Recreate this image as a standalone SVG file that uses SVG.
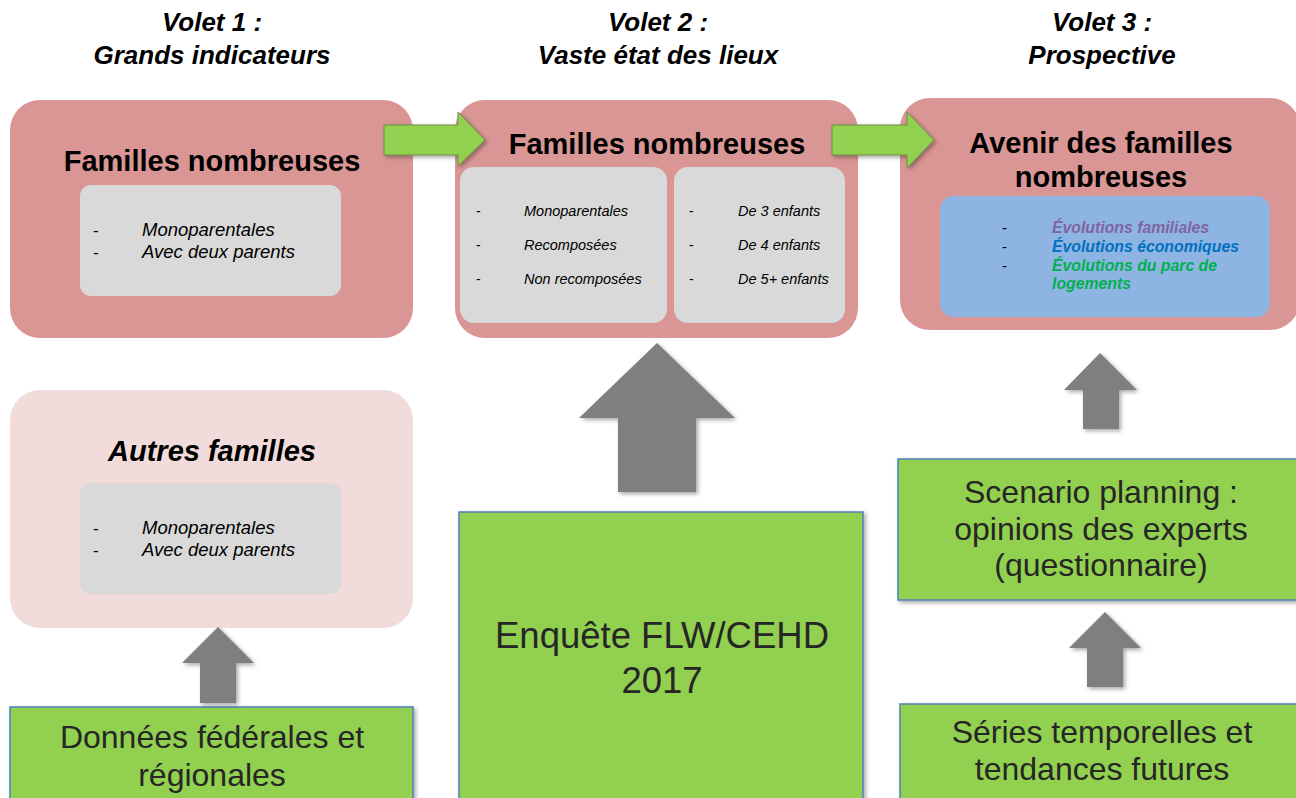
<svg xmlns="http://www.w3.org/2000/svg" width="1296" height="798" viewBox="0 0 1296 798">
<defs>
<filter id="sh" x="-20%" y="-20%" width="140%" height="140%">
<feDropShadow dx="2" dy="2" stdDeviation="2" flood-color="#000" flood-opacity="0.35"/>
</filter>
</defs>
<style>
.hdr{font-family:"Liberation Sans",Arial,sans-serif;font-size:26px;font-weight:bold;font-style:italic;fill:#000;text-anchor:middle}
.ttl{font-family:"Liberation Sans",Arial,sans-serif;font-size:29px;font-weight:bold;fill:#000;text-anchor:middle}
.it1{font-family:"Liberation Sans",Arial,sans-serif;font-size:18.5px;font-style:italic;fill:#000}
.it2{font-family:"Liberation Sans",Arial,sans-serif;font-size:14.5px;font-style:italic;fill:#000}
.it3{font-family:"Liberation Sans",Arial,sans-serif;font-size:15.8px;font-style:italic;font-weight:bold}
.dash{font-family:"Liberation Sans",Arial,sans-serif;fill:#000}
.big{font-family:"Liberation Sans",Arial,sans-serif;font-size:32px;fill:#262626;text-anchor:middle}
.huge{font-family:"Liberation Sans",Arial,sans-serif;font-size:36.5px;fill:#262626;text-anchor:middle}
.pink{fill:#DA9694}
.lpink{fill:#F2DCDB}
.gray{fill:#D9D9D9}
.blue{fill:#8EB4E3}
.gbox{fill:#92D050;stroke:#4F81BD;stroke-width:1.5}
.garr{fill:#92D050;stroke:#6E8F45;stroke-width:1}
.darr{fill:#7F7F7F}
</style>

<g id="headers">
<text class="hdr" x="212" y="31">Volet 1 :</text>
<text class="hdr" x="212" y="64">Grands indicateurs</text>
<text class="hdr" x="658" y="31">Volet 2 :</text>
<text class="hdr" x="658" y="64">Vaste état des lieux</text>
<text class="hdr" x="1102" y="31">Volet 3 :</text>
<text class="hdr" x="1102" y="64">Prospective</text>
</g>

<g id="node-volet1">
<rect class="pink" x="10" y="100" width="403" height="238" rx="30"/>
<text class="ttl" x="212" y="171">Familles nombreuses</text>
<rect class="gray" x="80" y="185" width="261" height="111" rx="11"/>
<text class="dash" x="93" y="236" font-size="17">-</text>
<text class="dash" x="93" y="258" font-size="17">-</text>
<text class="it1" x="142" y="236">Monoparentales</text>
<text class="it1" x="142" y="258">Avec deux parents</text>
</g>

<g id="node-volet2">
<rect class="pink" x="455" y="100" width="403" height="238" rx="30"/>
<text class="ttl" x="657" y="154">Familles nombreuses</text>
<rect class="gray" x="460" y="167" width="207" height="156" rx="14"/>
<rect class="gray" x="674" y="167" width="171" height="156" rx="14"/>
<text class="dash" x="476" y="216" font-size="14">-</text>
<text class="dash" x="476" y="250" font-size="14">-</text>
<text class="dash" x="476" y="284" font-size="14">-</text>
<text class="it2" x="524" y="216">Monoparentales</text>
<text class="it2" x="524" y="250">Recomposées</text>
<text class="it2" x="524" y="284">Non recomposées</text>
<text class="dash" x="689" y="216" font-size="14">-</text>
<text class="dash" x="689" y="250" font-size="14">-</text>
<text class="dash" x="689" y="284" font-size="14">-</text>
<text class="it2" x="738" y="216">De 3 enfants</text>
<text class="it2" x="738" y="250">De 4 enfants</text>
<text class="it2" x="738" y="284">De 5+ enfants</text>
</g>

<g id="node-volet3">
<rect class="pink" x="900" y="98" width="400" height="232" rx="30"/>
<text class="ttl" x="1101" y="153">Avenir des familles</text>
<text class="ttl" x="1101" y="187">nombreuses</text>
<rect class="blue" x="940" y="196" width="330" height="121" rx="14"/>
<text class="dash" x="1002" y="233" font-size="15">-</text>
<text class="dash" x="1002" y="252" font-size="15">-</text>
<text class="dash" x="1002" y="271" font-size="15">-</text>
<text class="it3" x="1052" y="233" fill="#8064A2">Évolutions familiales</text>
<text class="it3" x="1052" y="252" fill="#0070C0">Évolutions économiques</text>
<text class="it3" x="1052" y="271" fill="#00B050">Évolutions du parc de</text>
<text class="it3" x="1052" y="289" fill="#00B050">logements</text>
</g>

<g id="node-autres">
<rect class="lpink" x="10" y="390" width="403" height="238" rx="30"/>
<text class="ttl" x="212" y="461" font-style="italic">Autres familles</text>
<rect class="gray" x="80" y="483" width="261" height="111" rx="11"/>
<text class="dash" x="93" y="534" font-size="17">-</text>
<text class="dash" x="93" y="556" font-size="17">-</text>
<text class="it1" x="142" y="534">Monoparentales</text>
<text class="it1" x="142" y="556">Avec deux parents</text>
</g>

<g id="node-donnees">
<rect class="gbox" x="10" y="707" width="403" height="100" filter="url(#sh)"/>
<text class="big" x="212" y="748">Données fédérales et</text>
<text class="big" x="212" y="786">régionales</text>
</g>

<g id="node-enquete">
<rect class="gbox" x="459" y="512" width="404" height="300" filter="url(#sh)"/>
<text class="huge" x="662" y="648">Enquête FLW/CEHD</text>
<text class="huge" x="662" y="693">2017</text>
</g>

<g id="node-scenario">
<rect class="gbox" x="898" y="459" width="410" height="141" filter="url(#sh)"/>
<text class="big" x="1101" y="503">Scenario planning :</text>
<text class="big" x="1101" y="540">opinions des experts</text>
<text class="big" x="1101" y="576">(questionnaire)</text>
</g>

<g id="node-series">
<rect class="gbox" x="900" y="704" width="410" height="110" filter="url(#sh)"/>
<text class="big" x="1102" y="743">Séries temporelles et</text>
<text class="big" x="1102" y="780">tendances futures</text>
</g>

<g id="connectors">
<polygon class="garr" filter="url(#sh)" points="384,125 458,125 458,112 485,140 458,166 458,155 384,155"/>
<polygon class="garr" filter="url(#sh)" points="832,125 907,125 907,112 934,140 907,168 907,155 832,155"/>
<polygon class="darr" filter="url(#sh)" points="657,343 735,418 696,418 696,492 618,492 618,418 579,418"/>
<polygon class="darr" filter="url(#sh)" points="218,627 254,663 236,663 236,703 200,703 200,663 182,663"/>
<polygon class="darr" filter="url(#sh)" points="1100,353 1137,390 1119,390 1119,429 1083,429 1083,390 1064,390"/>
<polygon class="darr" filter="url(#sh)" points="1105,612 1141,648 1123,648 1123,687 1087,687 1087,648 1069,648"/>
</g>
</svg>
